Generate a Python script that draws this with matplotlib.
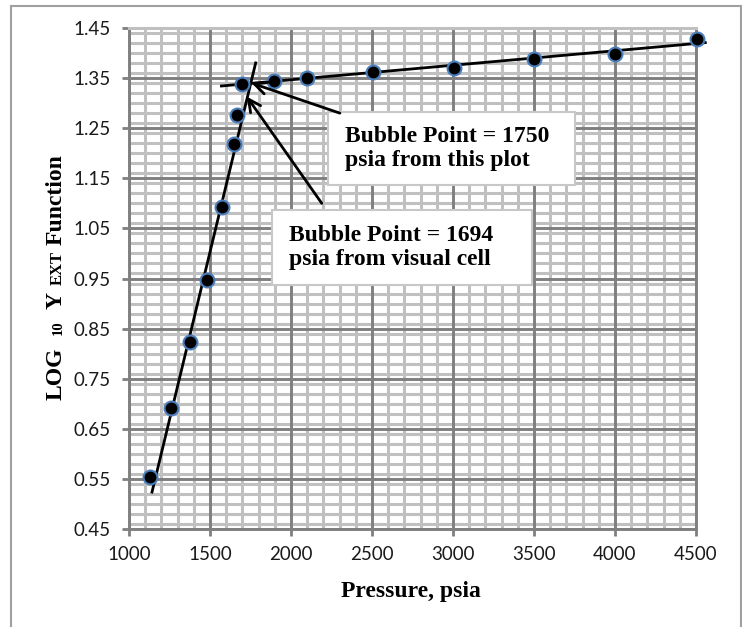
import matplotlib.pyplot as plt
from matplotlib.patches import Rectangle
from matplotlib.ticker import MultipleLocator

# measured points
pressure = [1130, 1262, 1378, 1480, 1576, 1648, 1668, 1697, 1897, 2100, 2505, 3005, 3497, 4000, 4505]
log_y = [0.553, 0.691, 0.823, 0.948, 1.093, 1.218, 1.276, 1.338, 1.344, 1.350, 1.362, 1.371, 1.389, 1.399, 1.429]

# the two straight lines drawn through the points
steep_x = [1140, 1784]
steep_y = [0.521, 1.383]
flat_x = [1562, 4566]
flat_y = [1.334, 1.421]

x_ticks = [1000, 1500, 2000, 2500, 3000, 3500, 4000, 4500]
y_ticks = [0.45, 0.55, 0.65, 0.75, 0.85, 0.95, 1.05, 1.15, 1.25, 1.35, 1.45]

note_1 = 'Bubble Point = 1750\npsia from this plot'
note_2 = 'Bubble Point = 1694\npsia from visual cell'

serif = 'Liberation Serif'
major_col = '#7f7f7f'
minor_col = '#c0c0c0'

fig = plt.figure(figsize=(7.42, 6.27), dpi=100)
ax = fig.add_axes([129 / 742, 1 - 529 / 627, 567 / 742, 501 / 627])

ax.plot(steep_x, steep_y, color='black', lw=2.0, zorder=4, solid_capstyle='butt')
ax.plot(flat_x, flat_y, color='black', lw=2.0, zorder=4, clip_on=False, solid_capstyle='butt')
ax.plot(pressure, log_y, 'o', ms=10, mfc='black', mec='#4a7ebb', mew=1.5, zorder=5, clip_on=False)

ax.set_xlim(1000, 4500)
ax.set_ylim(0.45, 1.45)
ax.set_xticks(x_ticks)
ax.set_yticks(y_ticks)
ax.set_xticklabels([str(v) for v in x_ticks])
ax.set_yticklabels(['%.2f' % v for v in y_ticks])
ax.xaxis.set_minor_locator(MultipleLocator(100))
ax.yaxis.set_minor_locator(MultipleLocator(0.02))

# minor grid underneath, major lines drawn on top of it
ax.set_axisbelow(True)
ax.grid(which='minor', color=minor_col, lw=2.2)
for v in x_ticks:
    ax.axvline(v, color=major_col, lw=2.1, zorder=1)
for v in y_ticks:
    ax.axhline(v, color=major_col, lw=2.1, zorder=1)

ax.tick_params(which='minor', length=0)
ax.tick_params(which='major', length=5, width=2.0, color=major_col, labelsize=13.5)
ax.tick_params(axis='x', pad=7)
ax.tick_params(axis='y', pad=8)
for lab in ax.get_xticklabels() + ax.get_yticklabels():
    lab.set_fontfamily('Lato')
    lab.set_color('#1a1a1a')

for side in ['left', 'bottom', 'right']:
    ax.spines[side].set_color(major_col)
    ax.spines[side].set_linewidth(2.1)
ax.spines['top'].set_color(minor_col)
ax.spines['top'].set_linewidth(2.2)

# annotation boxes
ax.add_patch(Rectangle((2228, 1.137), 1525, 0.145, facecolor='white', edgecolor='#c8c8c8', lw=1.5, zorder=3))
ax.add_patch(Rectangle((1883, 0.937), 1605, 0.150, facecolor='white', edgecolor='#c8c8c8', lw=1.5, zorder=3))
ax.text(2333, 1.2095, note_1, ha='left', va='center', family=serif, weight='bold',
        fontsize=17, linespacing=1.15, zorder=6)
ax.text(1988, 1.012, note_2, ha='left', va='center', family=serif, weight='bold',
        fontsize=17, linespacing=1.15, zorder=6)

arrow = dict(arrowstyle='->', lw=2.0, color='black', mutation_scale=22, shrinkA=0, shrinkB=0)
ax.annotate('', xy=(1757, 1.340), xytext=(2302, 1.28), arrowprops=arrow, zorder=6)
ax.annotate('', xy=(1727, 1.313), xytext=(2190, 1.100), arrowprops=arrow, zorder=6)

# axis titles
fig.text(411 / 742, 1 - 597 / 627, 'Pressure, psia', ha='center', va='baseline',
         family=serif, weight='bold', fontsize=17)

ylabel_parts = [('LOG', 17, 374), ('10', 10.5, 328), ('Y', 17, 300), ('EXT', 12, 268), ('Function', 17, 200)]
for txt, size, ypix in ylabel_parts:
    fig.text(62 / 742, 1 - ypix / 627, txt, rotation=90, rotation_mode='anchor',
             ha='center', va='baseline', family=serif, weight='bold', fontsize=size)

# outer frame
fig.patches.append(Rectangle((11 / 742, -0.05), 730 / 742, 1.05 - 6 / 627,
                             transform=fig.transFigure, fill=False, edgecolor='#a0a0a0', lw=1.5))

fig.savefig('out.png', dpi=100)
